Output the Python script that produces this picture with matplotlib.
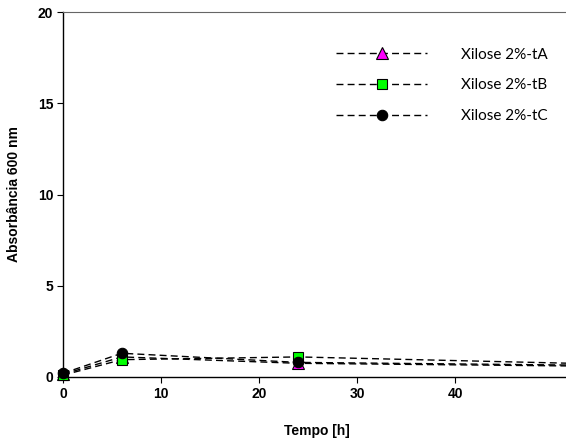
import matplotlib
matplotlib.use("Agg")
import matplotlib.pyplot as plt

time_h = [0, 6, 24, 72]
series_labels = ["Xilose 2%-tA", "Xilose 2%-tB", "Xilose 2%-tC"]
abs_tA = [0.15, 1.10, 0.75, 0.50]
abs_tB = [0.10, 0.95, 1.10, 0.50]
abs_tC = [0.20, 1.30, 0.80, 0.55]
x_ticks = [0, 10, 20, 30, 40]
y_ticks = [0, 5, 10, 15, 20]

W, H = 566, 441
fig = plt.figure(figsize=(W / 100, H / 100), dpi=100)
left, right, top, bottom = 63, 566 + 5, 12, 377
ax = fig.add_axes([left / W, 1 - bottom / H, (right - left) / W, (bottom - top) / H])

styles = [
    dict(marker="^", mfc="#ff00ff", ms=8),
    dict(marker="s", mfc="#00ff00", ms=7),
    dict(marker="o", mfc="black", ms=7.5),
]
for vals, lab, st in zip([abs_tA, abs_tB, abs_tC], series_labels, styles):
    ax.plot(time_h, vals, color="black", lw=1.0, ls=(0, (5, 3)),
            mec="black", mew=0.8, label=lab, clip_on=False, **st)

ax.set_xlim(0, (right - left) / 9.8)
ax.set_ylim(0, 20)
ax.set_xticks(x_ticks)
ax.set_yticks(y_ticks)
for t in ax.get_xticklabels() + ax.get_yticklabels():
    t.set_fontweight("bold")
    t.set_fontfamily("Liberation Sans")
    t.set_fontsize(10)
ax.tick_params(direction="out", length=4, width=0.8, pad=3)
ax.spines["top"].set_color("#666666")
ax.spines["top"].set_linewidth(0.8)
ax.spines["right"].set_visible(False)
ax.spines["left"].set_linewidth(1.0)
ax.spines["bottom"].set_linewidth(1.0)

ax.set_xlabel("Tempo [h]", fontsize=10, fontweight="bold", family="Liberation Sans", labelpad=17)
ax.set_ylabel("Absorbância 600 nm", fontsize=10, fontweight="bold", family="Liberation Sans", labelpad=12)

leg = ax.legend(loc="upper left", bbox_to_anchor=(0.51, 0.94), frameon=False,
                handlelength=6.0, handletextpad=2.2, labelspacing=1.1,
                prop={"family": "Lato", "size": 11}, markerscale=1.0)

fig.savefig("out.png", dpi=100)
